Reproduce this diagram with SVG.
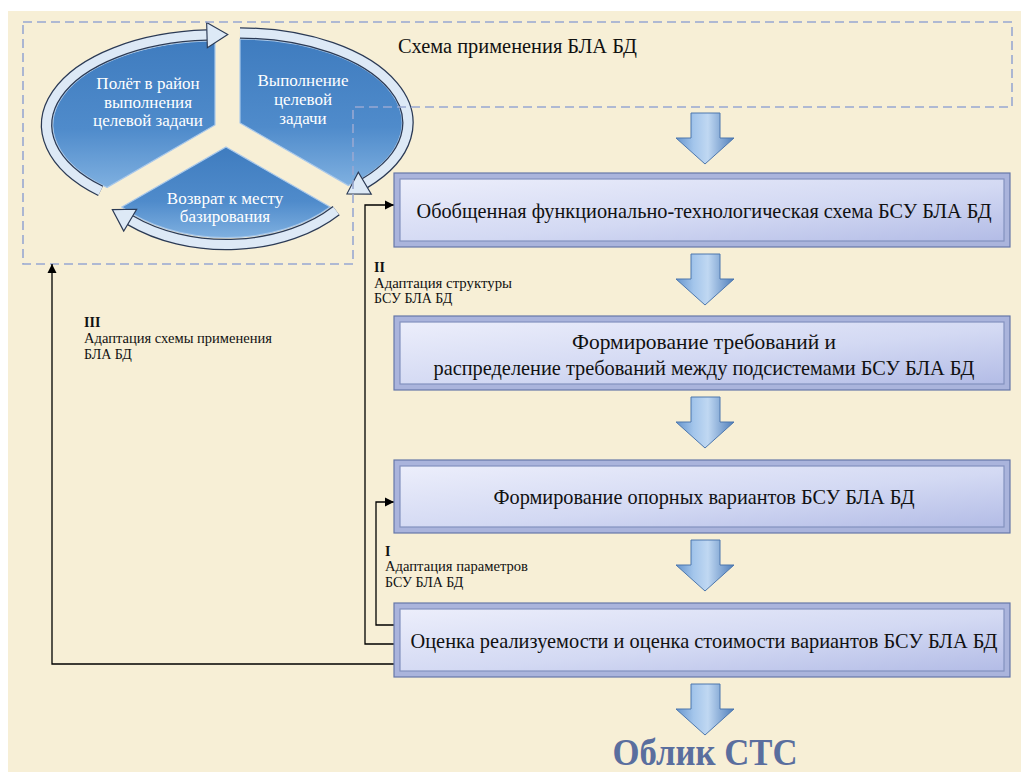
<svg xmlns="http://www.w3.org/2000/svg" width="1021" height="772" viewBox="0 0 1021 772">
  <defs>
    <linearGradient id="boxFill" x1="0" y1="0" x2="1" y2="1">
      <stop offset="0" stop-color="#eceefb"/>
      <stop offset="0.55" stop-color="#d3d9f3"/>
      <stop offset="1" stop-color="#b3bce6"/>
    </linearGradient>
    <linearGradient id="arrowFill" x1="0" y1="0" x2="1" y2="0">
      <stop offset="0" stop-color="#6594cc"/>
      <stop offset="0.3" stop-color="#a3c5eb"/>
      <stop offset="0.55" stop-color="#c0d8f2"/>
      <stop offset="1" stop-color="#4f7eba"/>
    </linearGradient>
    <linearGradient id="segFill" x1="0" y1="0" x2="0" y2="1">
      <stop offset="0" stop-color="#3f7cbf"/>
      <stop offset="0.6" stop-color="#4f8bcb"/>
      <stop offset="1" stop-color="#7fb0e0"/>
    </linearGradient>
    <marker id="ringHead" markerUnits="userSpaceOnUse" markerWidth="30" markerHeight="30" refX="0" refY="0" orient="auto" viewBox="-2 -13 24 26" overflow="visible">
      <path d="M0,-11 L18,0 L0,11 Z" fill="#dde9f6" stroke="#2b3a55" stroke-width="1"/>
    </marker>
    <marker id="lineHead" markerUnits="userSpaceOnUse" markerWidth="12" markerHeight="10" refX="9" refY="0" orient="auto" viewBox="0 -5 10 10" overflow="visible">
      <path d="M0,-4.5 L9,0 L0,4.5 Z" fill="#000"/>
    </marker>
    <path id="downArrow" d="M-14,0 L15,0 L15,25 L29,25 L0,51 L-29,25 L-14,25 Z"/>
  </defs>
  <style>
    .bg { fill: #f7efd6; }
    .frame { fill: none; stroke: #98a8d2; stroke-width: 1.6; stroke-dasharray: 9 5; }
    .seg { fill: url(#segFill); stroke: #a9c8ea; stroke-width: 1.2; }
    .ringOut { fill: none; stroke: #2b3a55; stroke-width: 11.5; }
    .ringIn { fill: none; stroke: #dde9f6; stroke-width: 9; }
    .segText { font-family: "Liberation Serif", "Times New Roman", serif; font-size: 17px; fill: #ffffff; text-anchor: middle; }
    .boxOuter { fill: #aab4dc; stroke: #6677a8; stroke-width: 1.2; }
    .boxInner { fill: url(#boxFill); stroke: #8391bf; stroke-width: 1.2; }
    .boxText { font-family: "Liberation Serif", "Times New Roman", serif; font-size: 21px; fill: #111111; text-anchor: middle; }
    .title { font-family: "Liberation Serif", "Times New Roman", serif; font-size: 20px; fill: #111111; }
    .lbl { font-family: "Liberation Serif", "Times New Roman", serif; font-size: 14px; fill: #111111; }
    .lblNum { font-family: "Liberation Serif", "Times New Roman", serif; font-size: 14px; font-weight: bold; fill: #111111; }
    .flow { fill: url(#arrowFill); stroke: #4d77ad; stroke-width: 1; }
    .link { fill: none; stroke: #000000; stroke-width: 1.3; }
    .result { font-family: "Liberation Serif", "Times New Roman", serif; font-size: 38px; font-weight: bold; fill: #5a6e9e; text-anchor: middle; }
  </style>

  <rect x="0" y="0" width="1021" height="772" fill="#ffffff"/>
  <rect class="bg" x="8" y="11" width="1013" height="761"/>

  <!-- Application scheme: three-stage cycle -->
  <g id="cycle">
    <g id="stage-flight">
      <path class="seg" d="M215,125 L215,41 A163 84 0 0 0 107,187.5 Z"/>
      <path class="ringOut" d="M100.6,190.9 A169 90 0 0 1 207,35.1"/>
      <path class="ringIn" d="M100.6,190.9 A169 90 0 0 1 207,35.1" marker-end="url(#ringHead)"/>
      <text class="segText" x="148" y="89">Полёт в район</text>
      <text class="segText" x="148" y="108">выполнения</text>
      <text class="segText" x="148" y="126">целевой задачи</text>
    </g>
    <g id="stage-task">
      <path class="seg" d="M240,123 L240,39 A162 84 0 0 1 348.3,185.5 Z"/>
      <path class="ringOut" d="M240,33 A168 90 0 0 1 364.8,183.2"/>
      <path class="ringIn" d="M240,33 A168 90 0 0 1 364.8,183.2" marker-end="url(#ringHead)"/>
      <text class="segText" x="303" y="86">Выполнение</text>
      <text class="segText" x="303" y="105">целевой</text>
      <text class="segText" x="303" y="124">задачи</text>
    </g>
    <g id="stage-return">
      <path class="seg" d="M226,147 L330.2,207.1 A140 92 0 0 1 121.8,207.1 Z"/>
      <path class="ringOut" d="M336.2,210.6 A146 99 0 0 1 130.2,220.2"/>
      <path class="ringIn" d="M336.2,210.6 A146 99 0 0 1 130.2,220.2" marker-end="url(#ringHead)"/>
      <text class="segText" x="225" y="204">Возврат к месту</text>
      <text class="segText" x="225" y="222">базирования</text>
    </g>
  </g>

  <!-- Dashed outline of the application scheme -->
  <g id="scheme-frame">
    <path class="frame" d="M23,22 H1012 V107 H353 V264 H23 Z"/>
    <text class="title" x="398" y="53" textLength="239" lengthAdjust="spacingAndGlyphs">Схема применения БЛА БД</text>
  </g>

  <!-- Flow arrows -->
  <g id="flow-arrows">
    <use href="#downArrow" class="flow" x="705" y="113"/>
    <use href="#downArrow" class="flow" x="705" y="254"/>
    <use href="#downArrow" class="flow" x="705" y="397"/>
    <use href="#downArrow" class="flow" x="705" y="540"/>
    <use href="#downArrow" class="flow" x="705" y="684"/>
  </g>

  <!-- Feedback connectors -->
  <g id="connectors">
    <path class="link" d="M394,625 H376 V502 H394" marker-end="url(#lineHead)"/>
    <path class="link" d="M394,644 H365 V205 H394" marker-end="url(#lineHead)"/>
    <path class="link" d="M394,664 H52 V264" marker-end="url(#lineHead)"/>
  </g>

  <g id="label-II">
    <text class="lblNum" x="374" y="272">II</text>
    <text class="lbl" x="374" y="288" textLength="138" lengthAdjust="spacingAndGlyphs">Адаптация структуры</text>
    <text class="lbl" x="374" y="303">БСУ БЛА БД</text>
  </g>
  <g id="label-I">
    <text class="lblNum" x="385" y="556">I</text>
    <text class="lbl" x="385" y="571" textLength="143" lengthAdjust="spacingAndGlyphs">Адаптация параметров</text>
    <text class="lbl" x="385" y="587">БСУ БЛА БД</text>
  </g>
  <g id="label-III">
    <text class="lblNum" x="84" y="327">III</text>
    <text class="lbl" x="84" y="343" textLength="188" lengthAdjust="spacingAndGlyphs">Адаптация схемы применения</text>
    <text class="lbl" x="84" y="359">БЛА БД</text>
  </g>

  <!-- Process stages -->
  <g id="box-scheme">
    <rect class="boxOuter" x="394" y="173" width="616" height="74"/>
    <rect class="boxInner" x="400" y="179" width="604" height="62"/>
    <text class="boxText" x="704" y="218" textLength="575" lengthAdjust="spacingAndGlyphs">Обобщенная функционально-технологическая схема БСУ БЛА БД</text>
  </g>
  <g id="box-requirements">
    <rect class="boxOuter" x="394" y="316" width="616" height="74"/>
    <rect class="boxInner" x="400" y="322" width="604" height="62"/>
    <text class="boxText" x="704" y="349" textLength="264" lengthAdjust="spacingAndGlyphs">Формирование требований и</text>
    <text class="boxText" x="704" y="375" textLength="541" lengthAdjust="spacingAndGlyphs">распределение требований между подсистемами БСУ БЛА БД</text>
  </g>
  <g id="box-variants">
    <rect class="boxOuter" x="394" y="460" width="616" height="73"/>
    <rect class="boxInner" x="400" y="466" width="604" height="61"/>
    <text class="boxText" x="704" y="504" textLength="421" lengthAdjust="spacingAndGlyphs">Формирование опорных вариантов БСУ БЛА БД</text>
  </g>
  <g id="box-evaluation">
    <rect class="boxOuter" x="394" y="603" width="616" height="74"/>
    <rect class="boxInner" x="400" y="609" width="604" height="62"/>
    <text class="boxText" x="704" y="648" textLength="587" lengthAdjust="spacingAndGlyphs">Оценка реализуемости и оценка стоимости вариантов БСУ БЛА БД</text>
  </g>

  <g id="result">
    <text class="result" x="705" y="765" textLength="185" lengthAdjust="spacingAndGlyphs">Облик СТС</text>
  </g>
</svg>
